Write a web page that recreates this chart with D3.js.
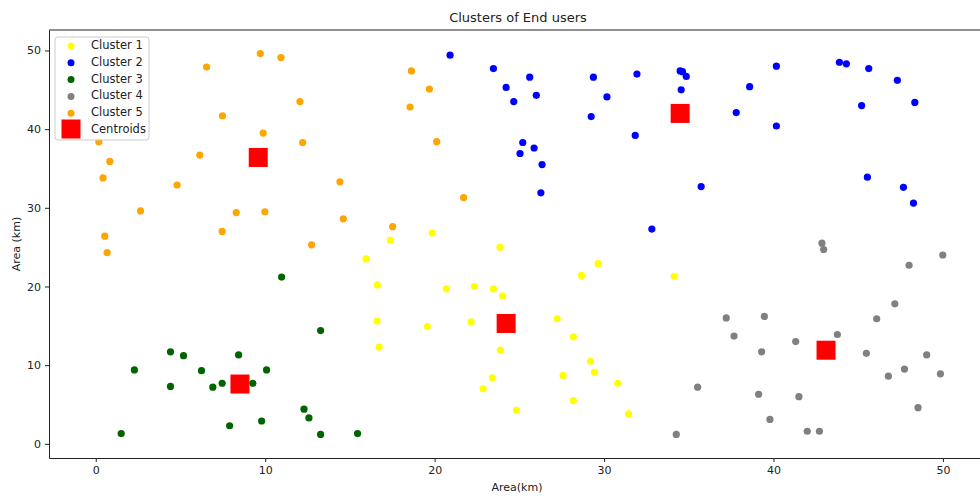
<!DOCTYPE html>
<html>
<head>
<meta charset="utf-8">
<script src="https://cdn.jsdelivr.net/npm/d3@7"></script>
<style>
  body { margin: 0; background: #fff; }
  text { font-family: "DejaVu Sans", sans-serif; fill: #222; }
</style>
</head>
<body>
<div id="wrapper"></div>
<script>
// points, [x, y]
const cluster1 = [[19.85,26.8],[17.38,25.9],[23.86,25.0],[15.95,23.5],[29.65,22.9],[28.67,21.4],[34.14,21.3],
    [16.62,20.2],[20.69,19.7],[22.35,20.0],[23.47,19.7],[24.02,18.8],[16.6,15.6],[19.57,14.9],[22.15,15.5],
    [27.23,15.9],[28.19,13.6],[16.72,12.3],[23.88,11.9],[29.2,10.5],[29.43,9.1],[27.58,8.7],[23.41,8.4],
    [22.86,7.0],[30.81,7.7],[28.19,5.5],[24.83,4.3],[31.44,3.8]]
const cluster2 = [[20.91,49.4],[23.47,47.7],[25.61,46.6],[24.22,45.3],[26.0,44.3],[24.67,43.5],[29.37,46.6],
    [30.17,44.1],[29.24,41.6],[31.94,47.0],[31.84,39.2],[25.2,38.3],[25.87,37.6],[25.04,36.9],[26.34,35.5],
    [26.27,31.9],[34.49,47.4],[34.63,47.3],[34.85,46.7],[34.55,45.0],[40.17,48.0],[38.59,45.4],[37.8,42.1],
    [40.17,40.4],[43.89,48.5],[44.3,48.3],[45.62,47.7],[47.31,46.2],[45.2,43.0],[48.34,43.4],[35.73,32.7],
    [32.82,27.3],[45.54,33.9],[47.67,32.6],[48.26,30.6]]
const cluster3 = [[10.97,21.2],[13.27,14.4],[4.41,11.7],[5.18,11.2],[8.43,11.3],[2.28,9.4],[6.24,9.3],
    [10.08,9.4],[4.41,7.3],[6.91,7.2],[7.46,7.7],[9.27,7.7],[12.29,4.4],[12.58,3.3],[7.9,2.3],[9.79,2.9],
    [1.5,1.3],[13.27,1.2],[15.45,1.3]]
const cluster4 = [[42.86,25.5],[42.96,24.7],[49.99,24.0],[48.0,22.7],[47.16,17.8],[46.09,15.9],[37.21,16.0],
    [39.46,16.2],[37.67,13.7],[43.77,13.9],[41.31,13.0],[39.3,11.7],[45.48,11.5],[49.04,11.3],[47.73,9.5],
    [46.78,8.6],[49.85,8.9],[35.52,7.2],[39.12,6.3],[41.5,6.0],[48.53,4.6],[39.79,3.1],[41.99,1.6],
    [42.71,1.6],[34.26,1.2]]
const cluster5 = [[9.71,49.6],[10.93,49.1],[6.54,47.9],[12.05,43.5],[7.48,41.7],[9.88,39.5],[12.21,38.3],
    [0.18,38.4],[6.14,36.7],[0.83,35.9],[0.43,33.8],[4.8,32.9],[2.64,29.6],[8.29,29.4],[9.98,29.5],
    [7.46,27.0],[0.53,26.4],[12.74,25.3],[0.67,24.3],[18.63,47.4],[19.69,45.1],[18.55,42.8],[20.12,38.4],
    [14.41,33.3],[21.71,31.3],[14.61,28.6],[17.52,27.6]]
const centroids = [[24.22,15.3],[34.49,42.0],[8.51,7.6],[43.1,11.9],[9.59,36.4]]

const clusterNames = ["Cluster 1", "Cluster 2", "Cluster 3", "Cluster 4", "Cluster 5"]
const clusterColors = ["yellow", "blue", "darkgreen", "grey", "orange"]
const xTicks = [0, 10, 20, 30, 40, 50]
const yTicks = [0, 10, 20, 30, 40, 50]

const dimensions = {
    width: 980,
    height: 496,
    margins: { top: 30, right: -7, bottom: 38, left: 49 }
}
dimensions.boundedWidth = dimensions.width - dimensions.margins.left - dimensions.margins.right
dimensions.boundedHeight = dimensions.height - dimensions.margins.top - dimensions.margins.bottom

const wrapper = d3.select("#wrapper")
    .append("svg")
        .attr("width", dimensions.width)
        .attr("height", dimensions.height)

const bounds = wrapper.append("g")
    .attr("transform", `translate(${dimensions.margins.left},${dimensions.margins.top})`)

const xScale = d3.scaleLinear()
    .domain([-2.76, 52.6])
    .range([0, dimensions.boundedWidth])
const yScale = d3.scaleLinear()
    .domain([-1.8, 52.6])
    .range([dimensions.boundedHeight, 0])

const allClusters = [cluster1, cluster2, cluster3, cluster4, cluster5]
allClusters.forEach((pts, i) => {
    bounds.append("g").selectAll("circle")
        .data(pts)
        .join("circle")
            .attr("cx", d => xScale(d[0]))
            .attr("cy", d => yScale(d[1]))
            .attr("r", 3.6)
            .attr("fill", clusterColors[i])
})

const sq = 19
bounds.append("g").selectAll("rect")
    .data(centroids)
    .join("rect")
        .attr("x", d => xScale(d[0]) - sq / 2)
        .attr("y", d => yScale(d[1]) - sq / 2)
        .attr("width", sq)
        .attr("height", sq)
        .attr("fill", "red")

// axes
const xAxis = bounds.append("g")
    .attr("transform", `translate(0,${dimensions.boundedHeight})`)
    .call(d3.axisBottom(xScale).tickValues(xTicks).tickSize(4).tickPadding(4).tickSizeOuter(0))
const yAxis = bounds.append("g")
    .call(d3.axisLeft(yScale).tickValues(yTicks).tickSize(4).tickPadding(4).tickSizeOuter(0))
;[xAxis, yAxis].forEach(ax => {
    ax.selectAll("text").style("font-size", "11px").attr("fill", "#222")
    ax.selectAll("line").attr("stroke", "#222")
    ax.select(".domain").attr("stroke", "#222")
})
// top and right spines
bounds.append("line")
    .attr("x1", 0).attr("x2", dimensions.boundedWidth)
    .attr("y1", 0).attr("y2", 0)
    .attr("stroke", "#222")
bounds.append("line")
    .attr("x1", dimensions.boundedWidth).attr("x2", dimensions.boundedWidth)
    .attr("y1", 0).attr("y2", dimensions.boundedHeight)
    .attr("stroke", "#222")

wrapper.append("text")
    .attr("x", 518).attr("y", 22)
    .attr("text-anchor", "middle")
    .style("font-size", "13px")
    .text("Clusters of End users")
wrapper.append("text")
    .attr("x", 517).attr("y", 491)
    .attr("text-anchor", "middle")
    .style("font-size", "11px")
    .text("Area(km)")
wrapper.append("text")
    .attr("transform", "translate(20,244) rotate(-90)")
    .attr("text-anchor", "middle")
    .style("font-size", "11px")
    .text("Area (km)")

// legend
const legend = wrapper.append("g").attr("transform", "translate(55,37)")
legend.append("rect")
    .attr("width", 94).attr("height", 103)
    .attr("rx", 3)
    .attr("fill", "white").attr("fill-opacity", 0.85)
    .attr("stroke", "#ccc")
const legendItems = clusterNames.map((n, i) => ({ name: n, color: clusterColors[i] }))
legendItems.push({ name: "Centroids", color: "red", square: true })
legendItems.forEach((item, i) => {
    const cy = 8 + i * 16.8
    if (item.square) {
        legend.append("rect")
            .attr("x", 16 - 9.5).attr("y", cy - 9.5)
            .attr("width", 19).attr("height", 19)
            .attr("fill", item.color)
    } else {
        legend.append("circle")
            .attr("cx", 16).attr("cy", cy + 1)
            .attr("r", 3.5)
            .attr("fill", item.color)
    }
    legend.append("text")
        .attr("x", 36).attr("y", cy + 4)
        .style("font-size", "11.5px")
        .text(item.name)
})
</script>
</body>
</html>
